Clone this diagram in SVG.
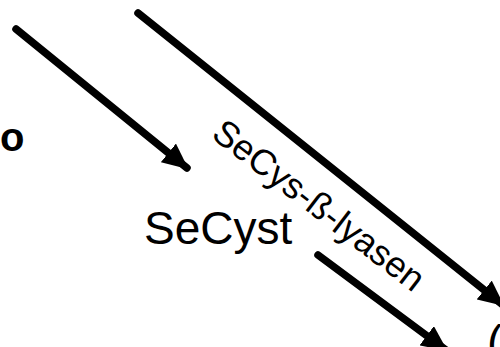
<svg xmlns="http://www.w3.org/2000/svg" width="500" height="347" viewBox="0 0 500 347">
  <style>
    .lbl { font-family: "Liberation Sans", Arial, sans-serif; fill: #000; }
    .conn { stroke: #000; stroke-width: 7.5; stroke-linecap: round; fill: none; marker-end: url(#head); }
  </style>
  <defs>
    <marker id="head" markerUnits="userSpaceOnUse" viewBox="0 0 26 24" refX="24" refY="12" markerWidth="26" markerHeight="24" orient="auto">
      <path d="M0,0 L26,12 L0,24 Z" fill="#000"/>
    </marker>
  </defs>
  <rect width="500" height="347" fill="#fff"/>
  <g id="connectors">
    <line class="conn" x1="16" y1="29" x2="187" y2="168"/>
    <line class="conn" x1="138" y1="13" x2="503" y2="305"/>
    <line class="conn" x1="318" y1="255" x2="446" y2="350"/>
  </g>
  <g id="node-o">
    <text class="lbl" x="0" y="151" font-size="40" font-weight="bold">o</text>
  </g>
  <g id="node-secyst">
    <text class="lbl" x="144" y="244" font-size="46">SeCyst</text>
  </g>
  <g id="label-lyasen">
    <text class="lbl" font-size="36" transform="translate(210,137) rotate(37.5)">SeCys-ß-lyasen</text>
  </g>
  <g id="node-paren">
    <text class="lbl" x="487" y="358" font-size="46">(</text>
  </g>
</svg>
